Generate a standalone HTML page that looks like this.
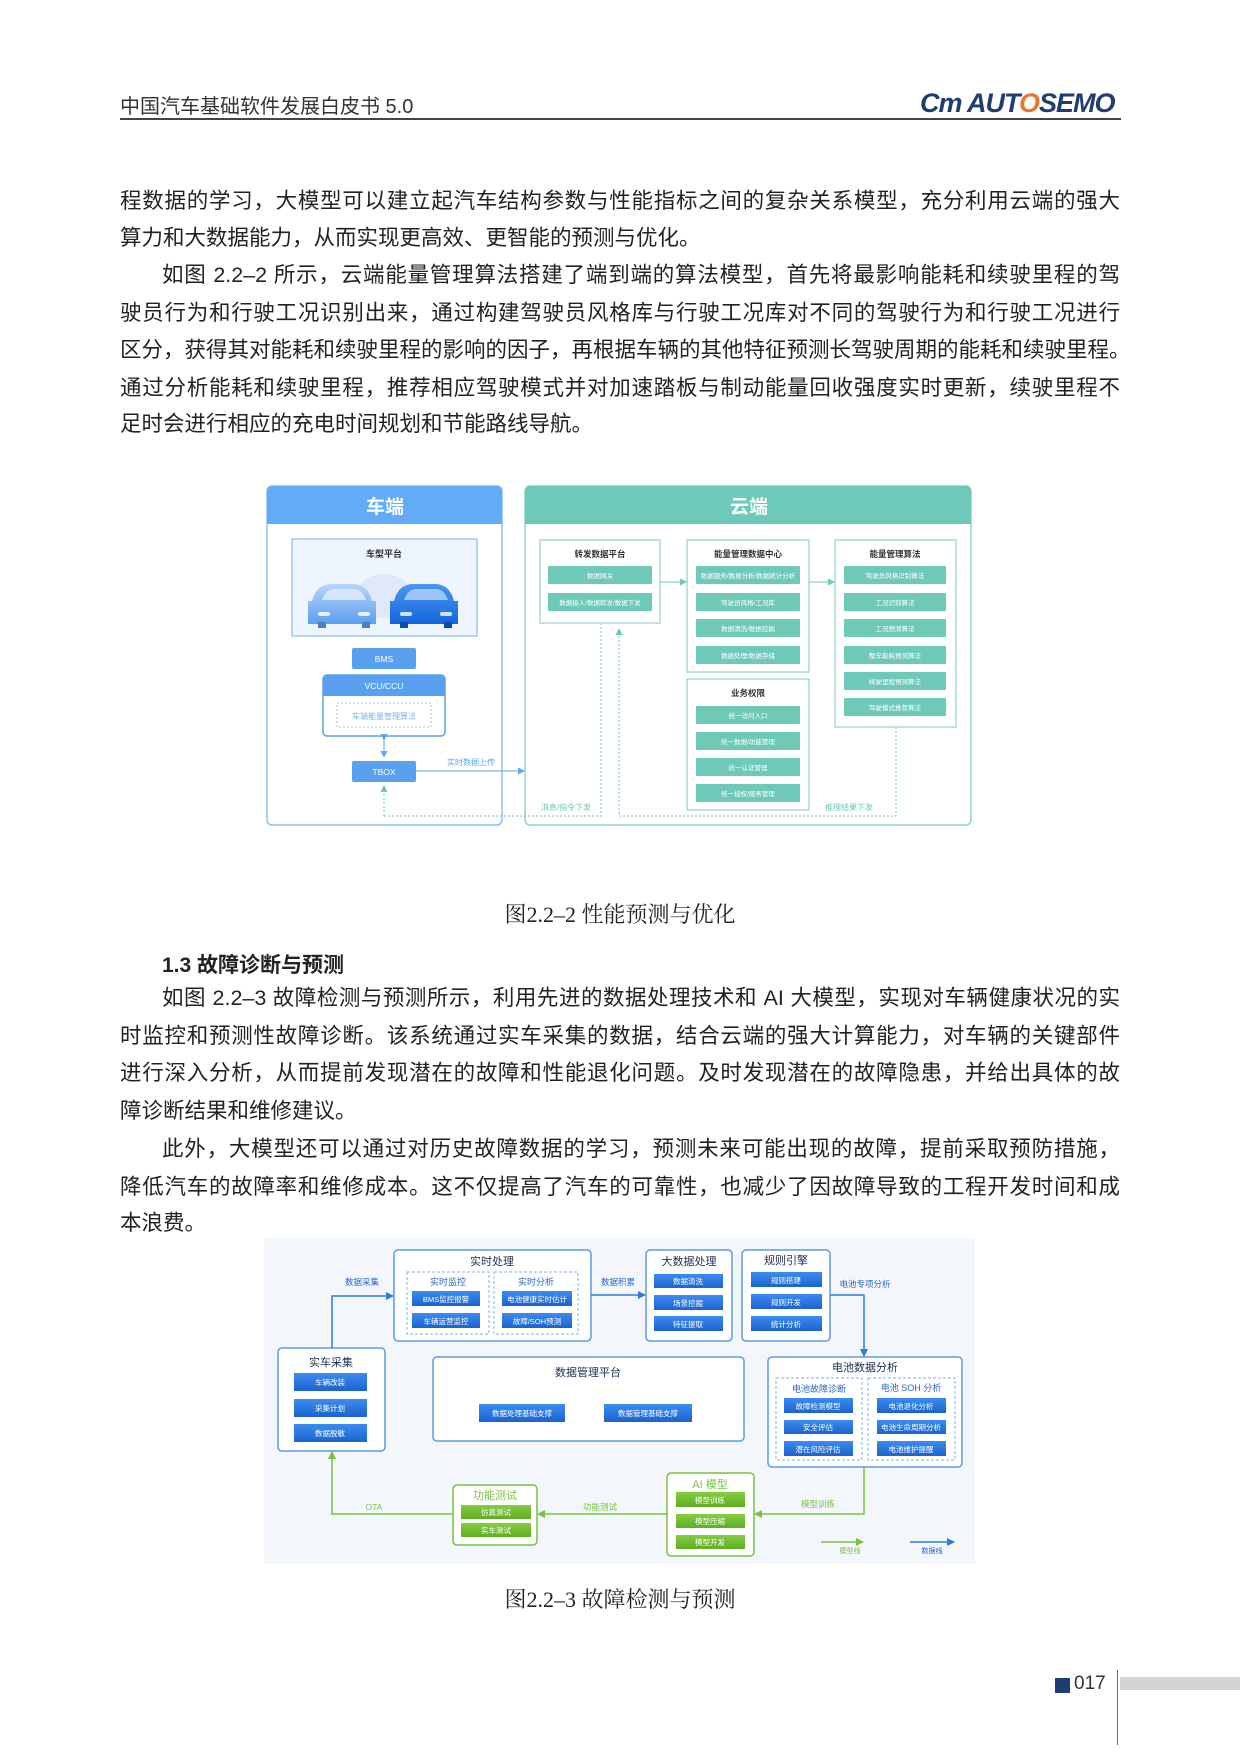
<!DOCTYPE html>
<html><head><meta charset="utf-8">
<style>
*{margin:0;padding:0;box-sizing:border-box}
body{width:1240px;height:1753px;background:#fff;position:relative;overflow:hidden;font-family:"Liberation Sans","Noto Sans CJK SC",sans-serif;color:#222}
.l{position:absolute;left:120px;width:1000px;font-size:21.5px;line-height:28px;height:28px;white-space:nowrap;text-align:justify;text-align-last:justify}
.n{text-align-last:left}
.i{left:162px;width:958px}
.cap{position:absolute;width:1240px;text-align:center;font-family:"Liberation Serif","Noto Serif CJK SC",serif;font-size:22px;color:#222}
svg text{font-family:"Liberation Sans","Noto Sans CJK SC",sans-serif}
</style></head><body>
<div style="position:absolute;left:120px;top:90px;font-size:20px;color:#333">中国汽车基础软件发展白皮书 5.0</div>
<div style="position:absolute;left:920px;top:88px;font-size:27px;font-weight:bold;font-style:italic;color:#1f3d72;letter-spacing:-1px">Cm AUT<span style="color:#e8772e">O</span>SEMO</div>
<div style="position:absolute;left:120px;top:118px;width:1001px;height:2px;background:#444"></div>

<div class="l" style="top:187px">程数据的学习，大模型可以建立起汽车结构参数与性能指标之间的复杂关系模型，充分利用云端的强大</div>
<div class="l n" style="top:224px">算力和大数据能力，从而实现更高效、更智能的预测与优化。</div>
<div class="l i" style="top:261px">如图 2.2–2 所示，云端能量管理算法搭建了端到端的算法模型，首先将最影响能耗和续驶里程的驾</div>
<div class="l" style="top:299px">驶员行为和行驶工况识别出来，通过构建驾驶员风格库与行驶工况库对不同的驾驶行为和行驶工况进行</div>
<div class="l" style="top:336px">区分，获得其对能耗和续驶里程的影响的因子，再根据车辆的其他特征预测长驾驶周期的能耗和续驶里程。</div>
<div class="l" style="top:374px">通过分析能耗和续驶里程，推荐相应驾驶模式并对加速踏板与制动能量回收强度实时更新，续驶里程不</div>
<div class="l n" style="top:410px">足时会进行相应的充电时间规划和节能路线导航。</div>

<svg style="position:absolute;left:0;top:0" width="1240" height="1753" viewBox="0 0 1240 1753">
<defs>
<linearGradient id="car1" x1="0" y1="0" x2="0" y2="1"><stop offset="0" stop-color="#b9d6fb"/><stop offset="1" stop-color="#5b9ff0"/></linearGradient>
<linearGradient id="car2" x1="0" y1="0" x2="0" y2="1"><stop offset="0" stop-color="#4d95f2"/><stop offset="1" stop-color="#1466dc"/></linearGradient>
<linearGradient id="bb" x1="0" y1="0" x2="0" y2="1"><stop offset="0" stop-color="#3b8cf0"/><stop offset="1" stop-color="#1c63cf"/></linearGradient>
<linearGradient id="gb" x1="0" y1="0" x2="0" y2="1"><stop offset="0" stop-color="#86cc45"/><stop offset="1" stop-color="#5eae22"/></linearGradient>
<marker id="ab" markerWidth="8" markerHeight="8" refX="7" refY="4" orient="auto" markerUnits="userSpaceOnUse"><path d="M0,0 L8,4 L0,8z" fill="#2d7de0"/></marker>
<marker id="ag" markerWidth="8" markerHeight="8" refX="7" refY="4" orient="auto" markerUnits="userSpaceOnUse"><path d="M0,0 L8,4 L0,8z" fill="#7ac143"/></marker>
<marker id="al" markerWidth="7" markerHeight="7" refX="6" refY="3.5" orient="auto" markerUnits="userSpaceOnUse"><path d="M0,0 L7,3.5 L0,7z" fill="#5aa8f5"/></marker>
<marker id="at" markerWidth="7" markerHeight="7" refX="6" refY="3.5" orient="auto" markerUnits="userSpaceOnUse"><path d="M0,0 L7,3.5 L0,7z" fill="#6cc8b8"/></marker>
</defs>
<!-- FIGURE 1 -->
<rect x="267" y="486" width="235" height="339" rx="5" fill="#fff" stroke="#8cc0f7" stroke-width="1.5"/>
<path d="M267,524 V491 a5,5 0 0 1 5,-5 H497 a5,5 0 0 1 5,5 V524z" fill="#62abf6"/>
<text x="385" y="513" font-size="19" font-weight="bold" fill="#fff" text-anchor="middle">车端</text>
<rect x="525" y="486" width="446" height="339" rx="5" fill="#fff" stroke="#8fd6c9" stroke-width="1.5"/>
<path d="M525,524 V491 a5,5 0 0 1 5,-5 H966 a5,5 0 0 1 5,5 V524z" fill="#6ec9b9"/>
<text x="749" y="513" font-size="19" font-weight="bold" fill="#fff" text-anchor="middle">云端</text>
<rect x="292" y="539" width="185" height="97" fill="#eef5fe" stroke="#9cc6f5" stroke-width="1.5"/>
<text x="384" y="557" font-size="9" font-weight="bold" fill="#333" text-anchor="middle">车型平台</text>
<!-- cars -->
<path d="M356,600 q0,-24 28,-26 q28,2 28,26 v18 h-56z" fill="#dde8f6" opacity=".9"/>
<path d="M312,601 q4,-16 18,-17 h24 q14,1 18,17 h4 v23 h-68 v-23z" fill="url(#car1)"/>
<path d="M322,600 q4,-11 12,-11 h20 q8,0 12,11z" fill="#d5e6fb"/>
<rect x="318" y="622" width="8" height="6" fill="#4a7fc4"/><rect x="362" y="622" width="8" height="6" fill="#4a7fc4"/>
<rect x="318" y="612" width="12" height="4" rx="2" fill="#e8f1fd"/><rect x="358" y="612" width="12" height="4" rx="2" fill="#e8f1fd"/>
<path d="M394,601 q4,-16 18,-17 h24 q14,1 18,17 h4 v23 h-68 v-23z" fill="url(#car2)"/>
<path d="M404,600 q4,-11 12,-11 h20 q8,0 12,11z" fill="#9cc4f6"/>
<rect x="400" y="622" width="8" height="6" fill="#0d4ba8"/><rect x="444" y="622" width="8" height="6" fill="#0d4ba8"/>
<rect x="400" y="612" width="12" height="4" rx="2" fill="#cfe2fb"/><rect x="440" y="612" width="12" height="4" rx="2" fill="#cfe2fb"/>
<rect x="352" y="648" width="64" height="21" rx="2" fill="#5aa0f0"/>
<text x="384" y="662" font-size="8.5" fill="#fff" text-anchor="middle">BMS</text>
<rect x="323" y="675" width="122" height="61" rx="4" fill="#fff" stroke="#5aa0f0" stroke-width="1.5"/>
<path d="M323,696 V679 a4,4 0 0 1 4,-4 H441 a4,4 0 0 1 4,4 V696z" fill="#5aa0f0"/>
<text x="384" y="689" font-size="8.5" fill="#fff" text-anchor="middle">VCU/CCU</text>
<rect x="337" y="703" width="94" height="24" fill="none" stroke="#9cc6f5" stroke-dasharray="2,2"/>
<text x="384" y="719" font-size="8" fill="#7ab3f2" text-anchor="middle">车端能量管理算法</text>
<line x1="384" y1="740" x2="384" y2="757" stroke="#5aa8f5" marker-end="url(#al)" marker-start="url(#al)"/>
<rect x="352" y="761" width="64" height="21" rx="2" fill="#5aa0f0"/>
<text x="384" y="775" font-size="8.5" fill="#fff" text-anchor="middle">TBOX</text>
<line x1="416" y1="771" x2="524" y2="771" stroke="#5aa8f5" marker-end="url(#al)"/>
<text x="471" y="765" font-size="8" fill="#5aa8f5" text-anchor="middle">实时数据上传</text>
<path d="M384,816 V786" fill="none" stroke="#6cc8b8" stroke-dasharray="2,2" marker-end="url(#at)"/>
<path d="M384,816 H601 V624" fill="none" stroke="#6cc8b8" stroke-dasharray="2,2"/>
<path d="M896,727 V816 H619 V629" fill="none" stroke="#6cc8b8" stroke-dasharray="2,2" marker-end="url(#at)"/>
<text x="566" y="810" font-size="8" fill="#6cc8b8" text-anchor="middle">消息/指令下发</text>
<text x="849" y="810" font-size="8" fill="#6cc8b8" text-anchor="middle">推理结果下发</text>
<g fill="#fff" stroke="#a9dcd2" stroke-width="1.5">
<rect x="540" y="540" width="120" height="83"/>
<rect x="687" y="540" width="122" height="132"/>
<rect x="835" y="540" width="121" height="187"/>
<rect x="687" y="679" width="122" height="131"/>
</g>
<g font-size="8.5" font-weight="bold" fill="#333" text-anchor="middle">
<text x="600" y="557">转发数据平台</text><text x="748" y="557">能量管理数据中心</text><text x="895" y="557">能量管理算法</text><text x="748" y="696">业务权限</text>
</g>
<g fill="#6ec9b9">
<rect x="548" y="566" width="104" height="18" rx="1"/><rect x="548" y="593" width="104" height="18" rx="1"/>
<rect x="696" y="566" width="104" height="18" rx="1"/><rect x="696" y="593" width="104" height="18" rx="1"/><rect x="696" y="619" width="104" height="18" rx="1"/><rect x="696" y="646" width="104" height="18" rx="1"/>
<rect x="844" y="566" width="102" height="18" rx="1"/><rect x="844" y="593" width="102" height="18" rx="1"/><rect x="844" y="619" width="102" height="18" rx="1"/><rect x="844" y="646" width="102" height="18" rx="1"/><rect x="844" y="672" width="102" height="18" rx="1"/><rect x="844" y="698" width="102" height="18" rx="1"/>
<rect x="696" y="706" width="104" height="18" rx="1"/><rect x="696" y="732" width="104" height="18" rx="1"/><rect x="696" y="758" width="104" height="18" rx="1"/><rect x="696" y="784" width="104" height="18" rx="1"/>
</g>
<g font-size="6.5" fill="#fff" text-anchor="middle">
<text x="600" y="578">数据网关</text><text x="600" y="605">数据接入/数据转发/数据下发</text>
<text x="748" y="578">数据服务/数据分析/数据统计分析</text><text x="748" y="605">驾驶员风格/工况库</text><text x="748" y="631">数据清洗/数据挖掘</text><text x="748" y="658">数据处理/数据存储</text>
<text x="895" y="578">驾驶员风格识别算法</text><text x="895" y="605">工况识别算法</text><text x="895" y="631">工况预测算法</text><text x="895" y="658">整车能耗预测算法</text><text x="895" y="684">续驶里程预测算法</text><text x="895" y="710">驾驶模式推荐算法</text>
<text x="748" y="718">统一访问入口</text><text x="748" y="744">统一数据/功能管理</text><text x="748" y="770">统一认证管理</text><text x="748" y="796">统一授权/服务管理</text>
</g>
<line x1="660" y1="582" x2="686" y2="582" stroke="#6cc8b8" marker-end="url(#at)"/>
<line x1="809" y1="582" x2="834" y2="582" stroke="#6cc8b8" marker-end="url(#at)"/>

<!-- FIGURE 2 -->
<rect x="264" y="1238" width="711" height="326" fill="#f3f6fa"/>
<g fill="#fff" stroke="#5b9be3" stroke-width="1.5">
<rect x="394" y="1250" width="197" height="91" rx="4"/>
<rect x="646" y="1250" width="86" height="91" rx="4"/>
<rect x="742" y="1250" width="88" height="91" rx="4"/>
<rect x="278" y="1348" width="107" height="103" rx="4"/>
<rect x="433" y="1357" width="311" height="84" rx="4"/>
<rect x="768" y="1357" width="194" height="110" rx="4"/>
</g>
<g fill="none" stroke="#7fb0ea" stroke-dasharray="3,2">
<rect x="407" y="1272" width="82" height="62"/><rect x="494" y="1272" width="84" height="62"/>
<rect x="776" y="1378" width="86" height="82"/><rect x="868" y="1378" width="87" height="82"/>
</g>
<g fill="#fff" stroke="#7ac143" stroke-width="1.5">
<rect x="667" y="1473" width="87" height="83" rx="4"/>
<rect x="453" y="1485" width="84" height="60" rx="4"/>
</g>
<g font-size="11" fill="#1d2f55" text-anchor="middle">
<text x="492" y="1265">实时处理</text><text x="689" y="1265">大数据处理</text><text x="786" y="1264">规则引擎</text>
<text x="331" y="1366">实车采集</text><text x="588" y="1376">数据管理平台</text><text x="865" y="1371">电池数据分析</text>
</g>
<g font-size="9" fill="#2a66c4" text-anchor="middle">
<text x="448" y="1285">实时监控</text><text x="536" y="1285">实时分析</text>
<text x="819" y="1392">电池故障诊断</text><text x="911" y="1391">电池 SOH 分析</text>
</g>
<g font-size="11" fill="#7ac143" text-anchor="middle"><text x="710" y="1488">AI 模型</text><text x="495" y="1499">功能测试</text></g>
<g fill="url(#bb)">
<rect x="412" y="1291" width="68" height="15"/><rect x="412" y="1313" width="68" height="15"/>
<rect x="502" y="1291" width="70" height="15"/><rect x="502" y="1313" width="70" height="15"/>
<rect x="654" y="1274" width="69" height="14"/><rect x="654" y="1295" width="69" height="15"/><rect x="654" y="1316" width="69" height="15"/>
<rect x="751" y="1272" width="71" height="15"/><rect x="751" y="1294" width="71" height="15"/><rect x="751" y="1316" width="71" height="15"/>
<rect x="294" y="1373" width="73" height="18"/><rect x="294" y="1399" width="73" height="18"/><rect x="294" y="1424" width="73" height="18"/>
<rect x="479" y="1404" width="86" height="18"/><rect x="604" y="1404" width="88" height="18"/>
<rect x="784" y="1398" width="69" height="15"/><rect x="784" y="1420" width="69" height="14"/><rect x="784" y="1441" width="69" height="15"/>
<rect x="877" y="1398" width="69" height="15"/><rect x="877" y="1420" width="69" height="14"/><rect x="877" y="1441" width="69" height="15"/>
</g>
<g fill="url(#gb)">
<rect x="676" y="1492" width="69" height="15"/><rect x="676" y="1514" width="69" height="14"/><rect x="676" y="1535" width="69" height="14"/>
<rect x="461" y="1505" width="70" height="14"/><rect x="461" y="1523" width="70" height="14"/>
</g>
<g font-size="7.5" fill="#fff" text-anchor="middle">
<text x="446" y="1302">BMS监控报警</text><text x="446" y="1324">车辆运营监控</text>
<text x="537" y="1302">电池健康实时估计</text><text x="537" y="1324">故障/SOH预测</text>
<text x="688" y="1284">数据清洗</text><text x="688" y="1306">场景挖掘</text><text x="688" y="1327">特征提取</text>
<text x="786" y="1283">规则搭建</text><text x="786" y="1305">规则开发</text><text x="786" y="1327">统计分析</text>
<text x="330" y="1385">车辆改装</text><text x="330" y="1411">采集计划</text><text x="330" y="1436">数据脱敏</text>
<text x="522" y="1416">数据处理基础支撑</text><text x="648" y="1416">数据管理基础支撑</text>
<text x="818" y="1409">故障检测模型</text><text x="818" y="1430">安全评估</text><text x="818" y="1452">潜在风险评估</text>
<text x="911" y="1409">电池退化分析</text><text x="911" y="1430">电池生命周期分析</text><text x="911" y="1452">电池维护提醒</text>
<text x="710" y="1503">模型训练</text><text x="710" y="1524">模型压缩</text><text x="710" y="1545">模型开发</text>
<text x="496" y="1515">仿真测试</text><text x="496" y="1533">实车测试</text>
</g>
<g fill="none" stroke="#2d7de0" stroke-width="1.5">
<path d="M332,1348 V1296 H393" marker-end="url(#ab)"/>
<path d="M591,1295 H645" marker-end="url(#ab)"/>
<path d="M830,1295 H864 V1356" marker-end="url(#ab)"/>
<path d="M910,1542 H954" marker-end="url(#ab)"/>
</g>
<g fill="none" stroke="#7ac143" stroke-width="1.5">
<path d="M864,1467 V1514 H755" marker-end="url(#ag)"/>
<path d="M667,1514 H538" marker-end="url(#ag)"/>
<path d="M453,1514 H332 V1452" marker-end="url(#ag)"/>
<path d="M821,1542 H863" marker-end="url(#ag)"/>
</g>
<g font-size="8.5" fill="#2a66c4" text-anchor="middle"><text x="362" y="1285">数据采集</text><text x="618" y="1285">数据积累</text><text x="865" y="1287">电池专项分析</text><text x="932" y="1553" font-size="7">数据线</text></g>
<g font-size="8.5" fill="#7ac143" text-anchor="middle"><text x="818" y="1507">模型训练</text><text x="600" y="1510">功能测试</text><text x="374" y="1510">OTA</text><text x="850" y="1553" font-size="7">模型线</text></g>
</svg>

<div class="cap" style="top:898px">图2.2–2 性能预测与优化</div>
<div style="position:absolute;left:162px;top:949px;font-size:21px;font-weight:bold;color:#222">1.3 故障诊断与预测</div>
<div class="l i" style="top:984px">如图 2.2–3 故障检测与预测所示，利用先进的数据处理技术和 AI 大模型，实现对车辆健康状况的实</div>
<div class="l" style="top:1022px">时监控和预测性故障诊断。该系统通过实车采集的数据，结合云端的强大计算能力，对车辆的关键部件</div>
<div class="l" style="top:1059px">进行深入分析，从而提前发现潜在的故障和性能退化问题。及时发现潜在的故障隐患，并给出具体的故</div>
<div class="l n" style="top:1097px">障诊断结果和维修建议。</div>
<div class="l i" style="top:1135px">此外，大模型还可以通过对历史故障数据的学习，预测未来可能出现的故障，提前采取预防措施，</div>
<div class="l" style="top:1173px">降低汽车的故障率和维修成本。这不仅提高了汽车的可靠性，也减少了因故障导致的工程开发时间和成</div>
<div class="l n" style="top:1209px">本浪费。</div>
<div class="cap" style="top:1583px">图2.2–3 故障检测与预测</div>

<div style="position:absolute;left:1055px;top:1678px;width:15px;height:15px;background:#1f3d72"></div>
<div style="position:absolute;left:1074px;top:1673px;font-size:19px;color:#333">017</div>
<div style="position:absolute;left:1117px;top:1670px;width:1px;height:75px;background:#666"></div>
<div style="position:absolute;left:1120px;top:1677px;width:120px;height:13px;background:#d4d4d4"></div>
</body></html>
